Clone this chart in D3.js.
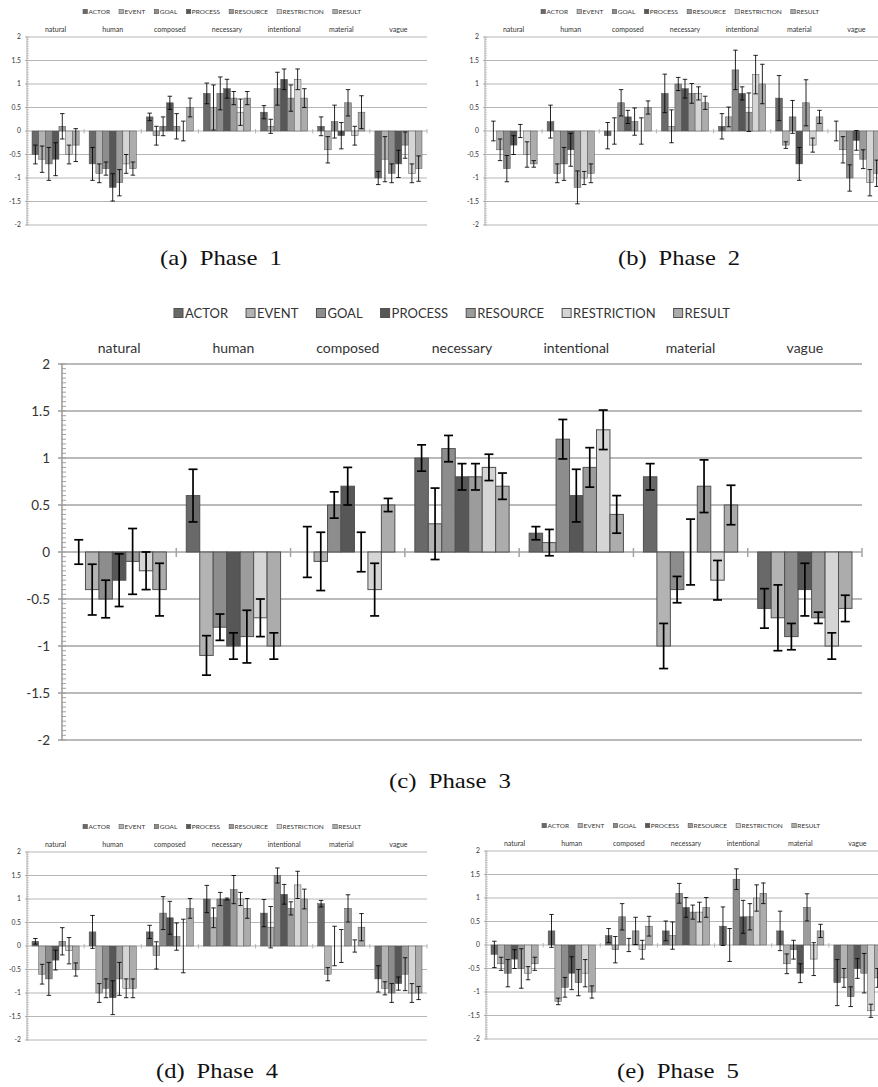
<!DOCTYPE html>
<meta charset="utf-8">
<style>
  body{ margin:0; background:#fff; }
  text{ font-family: Lato, "Open Sans", sans-serif; fill:#333; }
  .caption{ font-family: "Liberation Serif", "DejaVu Serif", serif; fill:#111; }
</style>
<body>
<div id="container"></div>
<script src="https://d3js.org/d3.v7.min.js"></script>
<script>

var categories = ['natural','human','composed','necessary','intentional','material','vague'];
var series = ['ACTOR','EVENT','GOAL','PROCESS','RESOURCE','RESTRICTION','RESULT'];
var yTicks = [2, 1.5, 1, 0.5, 0, -0.5, -1, -1.5, -2];
var captions = ['(a) Phase 1','(b) Phase 2','(c) Phase 3','(d) Phase 4','(e) Phase 5'];

// one row per category, one column per series
var phase1Values = [
  [-0.5,-0.6,-0.7,-0.6, 0.1,-0.5,-0.3],
  [-0.7,-0.9,-0.8,-1.2,-1.1,-0.7,-0.8],
  [ 0.3,-0.1, 0.1, 0.6, 0.1, 0, 0.5],
  [ 0.8, 0.5, 0.8, 0.9, 0.7, 0.4, 0.7],
  [ 0.4, 0.1, 0.9, 1.1, 0.7, 1.1, 0.7],
  [ 0.1,-0.4, 0.2,-0.1, 0.6,-0.1, 0.4],
  [-1.0,-0.6,-0.9,-0.7,-0.3,-0.9,-0.8]
];
var phase1Errors = [
  [0.2,0.28,0.35,0.35,0.27,0.2,0.35],
  [0.35,0.2,0.14,0.29,0.28,0.2,0.14],
  [0.08,0.2,0.2,0.14,0.27,0.21,0.2],
  [0.22,0.48,0.35,0.2,0.14,0.28,0.14],
  [0.14,0.15,0.35,0.22,0.28,0.22,0.2],
  [0.2,0.28,0.35,0.28,0.28,0.2,0.35],
  [0.14,0.48,0.2,0.29,0.28,0.2,0.27]
];

var phase2Values = [
  [ 0,-0.4,-0.8,-0.3, 0,-0.5,-0.7],
  [ 0.2,-0.9,-0.7,-0.4,-1.2,-1.0,-0.9],
  [-0.1, 0, 0.6, 0.3, 0.2, 0, 0.5],
  [ 0.8, 0.1, 1.0, 0.9, 0.8, 0.8, 0.6],
  [ 0.1, 0.3, 1.3, 0.8, 0.4, 1.2, 1.0],
  [ 0.7,-0.3, 0.3,-0.7, 0.6,-0.3, 0.3],
  [ 0,-0.4,-1.0,-0.2,-0.6,-1.1,-0.9]
];
var phase2Errors = [
  [0.21,0.23,0.28,0.2,0.14,0.27,0.07],
  [0.35,0.2,0.35,0.35,0.35,0.14,0.2],
  [0.28,0.28,0.28,0.14,0.29,0.28,0.14],
  [0.41,0.35,0.14,0.2,0.21,0.14,0.14],
  [0.27,0.21,0.42,0.14,0.41,0.41,0.42],
  [0.48,0.07,0.35,0.35,0.49,0.15,0.14],
  [0.21,0.28,0.28,0.21,0.2,0.28,0.28]
];

var phase3Values = [
  [ 0,-0.4,-0.5,-0.3,-0.1,-0.2,-0.4],
  [ 0.6,-1.1,-0.8,-1.0,-0.9,-0.7,-1.0],
  [ 0,-0.1, 0.5, 0.7, 0,-0.4, 0.5],
  [ 1.0, 0.3, 1.1, 0.8, 0.8, 0.9, 0.7],
  [ 0.2, 0.1, 1.2, 0.6, 0.9, 1.3, 0.4],
  [ 0.8,-1.0,-0.4, 0, 0.7,-0.3, 0.5],
  [-0.6,-0.7,-0.9,-0.4,-0.7,-1.0,-0.6]
];
var phase3Errors = [
  [0.13,0.27,0.2,0.28,0.35,0.2,0.28],
  [0.28,0.21,0.14,0.14,0.28,0.2,0.14],
  [0.27,0.31,0.14,0.2,0.21,0.28,0.07],
  [0.14,0.38,0.14,0.14,0.14,0.14,0.14],
  [0.07,0.14,0.21,0.28,0.21,0.21,0.2],
  [0.14,0.24,0.14,0.35,0.28,0.21,0.21],
  [0.21,0.35,0.14,0.28,0.06,0.14,0.14]
];

var phase4Values = [
  [ 0.1,-0.6,-0.7,-0.3, 0.1,-0.1,-0.5],
  [ 0.3,-1.0,-0.9,-1.1,-0.7,-0.9,-0.9],
  [ 0.3,-0.2, 0.7, 0.6, 0.2, 0, 0.8],
  [ 1.0, 0.6, 1.0, 1.0, 1.2, 1.0, 0.8],
  [ 0.7, 0.4, 1.5, 1.1, 0.8, 1.3, 1.0],
  [ 0.9,-0.6, 0, 0, 0.8, 0, 0.4],
  [-0.7,-0.9,-1.0,-0.8,-0.6,-1.0,-1.0]
];
var phase4Errors = [
  [0.06,0.21,0.35,0.21,0.29,0.28,0.14],
  [0.35,0.2,0.2,0.36,0.35,0.2,0.2],
  [0.14,0.29,0.35,0.35,0.29,0.57,0.21],
  [0.29,0.21,0.14,0.02,0.3,0.14,0.21],
  [0.29,0.44,0.16,0.21,0.14,0.29,0.21],
  [0.07,0.14,0.42,0.35,0.29,0.13,0.29],
  [0.28,0.14,0.2,0.14,0.35,0.2,0.14]
];

var phase5Values = [
  [-0.2,-0.4,-0.6,-0.3,-0.5,-0.6,-0.4],
  [ 0.3,-1.2,-0.9,-0.6,-0.8,-0.6,-1.0],
  [ 0.2,-0.1, 0.6, 0, 0.3,-0.1, 0.4],
  [ 0.3, 0.2, 1.1, 0.8, 0.7, 0.7, 0.8],
  [ 0.4, 0, 1.4, 0.6, 0.6, 1.0, 1.1],
  [ 0.3,-0.4,-0.1,-0.6, 0.8,-0.3, 0.3],
  [-0.8,-0.7,-1.1,-0.5,-0.6,-1.4,-0.7]
];
var phase5Errors = [
  [0.28,0.14,0.29,0.2,0.42,0.14,0.14],
  [0.35,0.07,0.21,0.35,0.28,0.29,0.13],
  [0.15,0.28,0.28,0.14,0.29,0.2,0.21],
  [0.21,0.29,0.21,0.21,0.15,0.21,0.21],
  [0.41,0.35,0.22,0.35,0.28,0.28,0.22],
  [0.42,0.21,0.2,0.2,0.29,0.35,0.14],
  [0.49,0.2,0.21,0.21,0.42,0.14,0.2]
];

var colors = ['#696969','#b3b3b3','#8d8d8d','#575757','#9c9c9c','#d5d5d5','#acacac'];

var svg = d3.select('#container').append('svg').attr('width',878).attr('height',1087);

// full size chart frame (phase 3); small ones are the same at half scale
var W = 800, H = 376;

function drawPhase(values, errors, tx, ty, k){
  var g = svg.append('g').attr('transform','translate('+tx+','+ty+') scale('+k+')');

  var x0 = d3.scaleBand().domain(categories).range([0,W]);
  var x1 = d3.scaleBand().domain(series).range([10, x0.bandwidth()-10]);
  var y = d3.scaleLinear().domain([-2,2]).range([H,0]);

  // grid
  g.selectAll('line.grid').data(yTicks).enter().append('line')
    .attr('x1',0).attr('x2',W)
    .attr('y1',function(d){return y(d);}).attr('y2',function(d){return y(d);})
    .attr('stroke','#a3a3a3').attr('stroke-width',1.6);

  // left axis with minor ticks
  g.append('line').attr('x1',0).attr('x2',0).attr('y1',0).attr('y2',H)
    .attr('stroke','#9a9a9a').attr('stroke-width',1.5);
  var minor = y.ticks(80);
  g.selectAll('line.minor').data(minor).enter().append('line')
    .attr('x1',-1).attr('x2',4)
    .attr('y1',function(d){return y(d);}).attr('y2',function(d){return y(d);})
    .attr('stroke','#a0a0a0').attr('stroke-width',1);
  g.selectAll('line.major').data(yTicks).enter().append('line')
    .attr('x1',-4).attr('x2',0)
    .attr('y1',function(d){return y(d);}).attr('y2',function(d){return y(d);})
    .attr('stroke','#9a9a9a').attr('stroke-width',1.5);
  g.selectAll('text.tick').data(yTicks).enter().append('text')
    .attr('x',-12).attr('y',function(d){return y(d);}).attr('dy','0.35em')
    .attr('text-anchor','end').attr('font-size',13.5)
    .text(function(d){return String(d);});

  // category separators on the zero line
  g.selectAll('line.sep').data(categories).enter().append('line')
    .attr('x1',function(d){return x0(d)+x0.bandwidth();})
    .attr('x2',function(d){return x0(d)+x0.bandwidth();})
    .attr('y1',y(0)-4).attr('y2',y(0)+5)
    .attr('stroke','#a3a3a3').attr('stroke-width',1.5);

  // category labels
  g.selectAll('text.cat').data(categories).enter().append('text')
    .attr('x',function(d){return x0(d)+x0.bandwidth()/2;}).attr('y',-11)
    .attr('text-anchor','middle').attr('font-size',14)
    .text(function(d){return d;});

  // bars
  var cells = [];
  categories.forEach(function(c,i){
    series.forEach(function(s,j){
      cells.push({cat:c, ser:s, idx:j, v:values[i][j], e:errors[i][j]});
    });
  });

  g.selectAll('rect.bar').data(cells.filter(function(d){return d.v !== 0;})).enter().append('rect')
    .attr('x',function(d){return x0(d.cat)+x1(d.ser);})
    .attr('width',x1.bandwidth())
    .attr('y',function(d){return Math.min(y(d.v),y(0));})
    .attr('height',function(d){return Math.abs(y(d.v)-y(0));})
    .attr('fill',function(d){return colors[d.idx];})
    .attr('stroke','#505050').attr('stroke-width',1);

  // error bars
  var eb = g.selectAll('g.err').data(cells).enter().append('g')
    .attr('transform',function(d){return 'translate('+(x0(d.cat)+x1(d.ser)+x1.bandwidth()/2)+',0)';});
  eb.append('line').attr('x1',0).attr('x2',0)
    .attr('y1',function(d){return y(d.v+d.e);}).attr('y2',function(d){return y(d.v-d.e);})
    .attr('stroke','#000').attr('stroke-width',1.7);
  eb.append('line').attr('x1',-4.5).attr('x2',4.5)
    .attr('y1',function(d){return y(d.v+d.e);}).attr('y2',function(d){return y(d.v+d.e);})
    .attr('stroke','#000').attr('stroke-width',1.7);
  eb.append('line').attr('x1',-4.5).attr('x2',4.5)
    .attr('y1',function(d){return y(d.v-d.e);}).attr('y2',function(d){return y(d.v-d.e);})
    .attr('stroke','#000').attr('stroke-width',1.7);

  // legend
  var lg = g.append('g');
  var xpos = 0;
  series.forEach(function(s,j){
    var it = lg.append('g').attr('transform','translate('+xpos+',0)');
    it.append('rect').attr('x',0).attr('y',-4.5).attr('width',9).attr('height',9)
      .attr('fill',colors[j]).attr('stroke','#505050').attr('stroke-width',1);
    var t = it.append('text').attr('x',11).attr('y',0).attr('dy','0.36em')
      .attr('font-size',13).text(s);
    xpos += 11 + t.node().getComputedTextLength() + 18;
  });
  var lw = xpos - 18;
  lg.attr('transform','translate('+(390 - lw/2)+',-51)');
}

drawPhase(phase1Values, phase1Errors, 27, 37, 0.5);
drawPhase(phase2Values, phase2Errors, 485, 37, 0.5);
drawPhase(phase3Values, phase3Errors, 62, 364, 1);
drawPhase(phase4Values, phase4Errors, 27, 852, 0.5);
drawPhase(phase5Values, phase5Errors, 486, 851, 0.5);

var capPos = [[221,265],[679,265],[450,788],[217,1078],[678,1078]];
svg.selectAll('text.caption').data(captions).enter().append('text')
  .attr('class','caption')
  .attr('x',function(d,i){return capPos[i][0];})
  .attr('y',function(d,i){return capPos[i][1];})
  .attr('text-anchor','middle').attr('font-size',21).attr('word-spacing',5)
  .attr('textLength',122).attr('lengthAdjust','spacingAndGlyphs')
  .text(function(d){return d;});

</script>
</body>
</html>
